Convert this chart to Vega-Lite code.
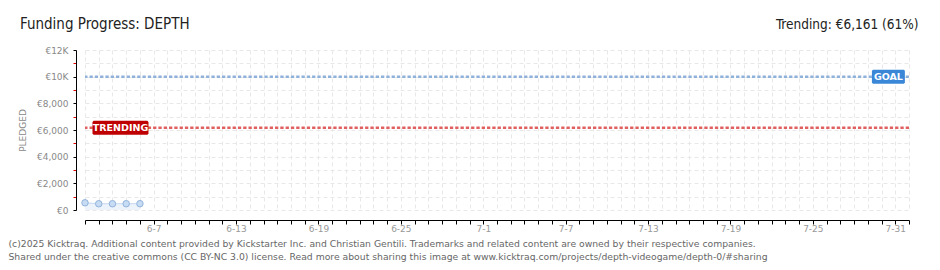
{
  "$schema": "https://vega.github.io/schema/vega-lite/v6.json",
  "width": 824,
  "height": 160,
  "autosize": "none",
  "padding": {"left": 85, "top": 50, "right": 31, "bottom": 60},
  "background": "white",
  "title": {
    "text": "Funding Progress: DEPTH",
    "anchor": "start",
    "frame": "group",
    "dx": -65,
    "dy": 19,
    "font": "'DejaVu Sans Condensed', 'Liberation Sans Narrow', sans-serif",
    "fontSize": 15,
    "fontWeight": "normal",
    "color": "#222222"
  },
  "datasets": {
    "pledged": [
      {"date": "2025-06-02T00:00:00Z", "value": 540},
      {"date": "2025-06-03T00:00:00Z", "value": 470},
      {"date": "2025-06-04T00:00:00Z", "value": 470},
      {"date": "2025-06-05T00:00:00Z", "value": 470},
      {"date": "2025-06-06T00:00:00Z", "value": 475}
    ],
    "marks": [
      {"kind": "goal", "label": "GOAL", "value": 10000, "date": "2025-07-30T12:00:00Z"},
      {"kind": "trending", "label": "TRENDING", "value": 6161, "date": "2025-06-04T14:00:00Z"}
    ]
  },
  "layer": [
    {
      "data": {"name": "pledged"},
      "mark": {"type": "area", "color": "#edf3fb", "opacity": 1},
      "encoding": {
        "x": {
          "field": "date",
          "type": "temporal",
          "scale": {"type": "utc", "domain": [{"year": 2025, "month": 6, "date": 2, "utc": true}, {"year": 2025, "month": 8, "date": 1, "utc": true}]},
          "axis": {
            "orient": "bottom",
            "offset": 10,
            "tickCount": {"interval": "day", "step": 1},
            "grid": true,
            "gridDash": [4, 3],
            "gridColor": "#e8e8e8",
            "domainColor": "#000000",
            "tickColor": "#000000",
            "tickSize": 4,
            "labelExpr": "(round((datum.value - utc(2025,5,7))/86400000) % 6 == 0) ? utcFormat(datum.value, '%-m-%-d') : ''",
            "labelColor": "#999999",
            "labelFont": "DejaVu Sans",
            "labelFontSize": 9,
            "labelPadding": 0,
            "labelOverlap": false,
            "labelFlush": false,
            "title": ["(c)2025 Kicktraq. Additional content provided by Kickstarter Inc. and Christian Gentili. Trademarks and related content are owned by their respective companies.", "Shared under the creative commons (CC BY-NC 3.0) license. Read more about sharing this image at www.kicktraq.com/projects/depth-videogame/depth-0/#sharing"],
            "titleX": -77,
            "titleY": 26,
            "titleAlign": "left",
            "titleAnchor": "start",
            "titleBaseline": "alphabetic",
            "titleFont": "DejaVu Sans",
            "titleFontSize": 9.25,
            "titleFontWeight": "normal",
            "titleColor": "#666666",
            "titleLineHeight": 13
          }
        },
        "y": {
          "field": "value",
          "type": "quantitative",
          "scale": {"domain": [0, 12000], "nice": false},
          "axis": {
            "orient": "left",
            "offset": 9,
            "values": [0, 1000, 2000, 3000, 4000, 5000, 6000, 7000, 8000, 9000, 10000, 11000, 12000],
            "grid": true,
            "gridDash": [4, 3],
            "gridColor": "#e8e8e8",
            "domainColor": "#000000",
            "tickColor": {"condition": {"test": "datum.value % 2000 === 0", "value": "#000000"}, "value": "#e00000"},
            "tickSize": 3,
            "labelExpr": "datum.value % 2000 ? '' : (datum.value >= 10000 ? '€' + (datum.value/1000) + 'K' : '€' + format(datum.value, ','))",
            "labelColor": "#888888",
            "labelFont": "DejaVu Sans",
            "labelFontSize": 9,
            "labelPadding": 5,
            "labelOverlap": false,
            "title": "PLEDGED",
            "titleColor": "#888888",
            "titleFont": "DejaVu Sans",
            "titleFontSize": 9,
            "titleFontWeight": "normal",
            "titleX": -54,
            "titleY": 80,
            "titleAlign": "center",
            "titleBaseline": "middle"
          }
        }
      }
    },
    {
      "data": {"name": "pledged"},
      "mark": {"type": "line", "color": "#c4d9f2", "strokeWidth": 1},
      "encoding": {
        "x": {"field": "date", "type": "temporal", "axis": null},
        "y": {"field": "value", "type": "quantitative", "axis": null}
      }
    },
    {
      "data": {"name": "marks"},
      "mark": {"type": "rule", "strokeWidth": 2.5, "strokeDash": [3.3, 2]},
      "encoding": {
        "y": {"field": "value", "type": "quantitative", "axis": null},
        "color": {"field": "kind", "type": "nominal", "scale": {"domain": ["goal", "trending"], "range": ["#8fb1da", "#e06060"]}, "legend": null}
      }
    },
    {
      "data": {"name": "pledged"},
      "mark": {"type": "point", "shape": "circle", "filled": true, "size": 42, "fill": "#c6dcf5", "stroke": "#93b2d9", "strokeWidth": 1, "opacity": 1},
      "encoding": {
        "x": {
          "field": "date",
          "type": "temporal",
          "axis": {
            "orient": "top",
            "labels": false,
            "ticks": false,
            "domain": false,
            "grid": false,
            "title": "Trending: €6,161 (61%)",
            "titleX": 833,
            "titleY": -22,
            "titleAlign": "right",
            "titleBaseline": "alphabetic",
            "titleFont": "'DejaVu Sans Condensed', 'Liberation Sans Narrow', sans-serif",
            "titleFontSize": 13.5,
            "titleFontWeight": "normal",
            "titleColor": "#222222"
          }
        },
        "y": {"field": "value", "type": "quantitative", "axis": null}
      }
    },
    {
      "data": {"name": "marks"},
      "mark": {"type": "point", "filled": true, "size": 3136, "opacity": 1, "strokeWidth": 0},
      "encoding": {
        "x": {"field": "date", "type": "temporal", "axis": null},
        "y": {"field": "value", "type": "quantitative", "axis": null},
        "shape": {"field": "kind", "type": "nominal", "scale": {"domain": ["goal", "trending"], "range": ["M-0.55,-0.25H0.55L0.589,-0.21V0.21L0.55,0.25H-0.55L-0.589,0.21V-0.21Z", "M-0.96,-0.25H0.96L1,-0.21V0.21L0.96,0.25H-0.96L-1,0.21V-0.21Z"]}, "legend": null},
        "fill": {"field": "kind", "type": "nominal", "scale": {"domain": ["goal", "trending"], "range": ["#3a87d8", "#bf0000"]}, "legend": null}
      }
    },
    {
      "data": {"name": "marks"},
      "mark": {"type": "text", "color": "#ffffff", "font": "DejaVu Sans", "fontSize": 9.5, "fontWeight": "bold", "align": "center", "baseline": "middle", "dy": 0.5},
      "encoding": {
        "x": {"field": "date", "type": "temporal", "axis": null},
        "y": {"field": "value", "type": "quantitative", "axis": null},
        "text": {"field": "label", "type": "nominal"}
      }
    }
  ],
  "resolve": {"axis": {"x": "independent", "y": "independent"}},
  "config": {"view": {"stroke": null}}
}
